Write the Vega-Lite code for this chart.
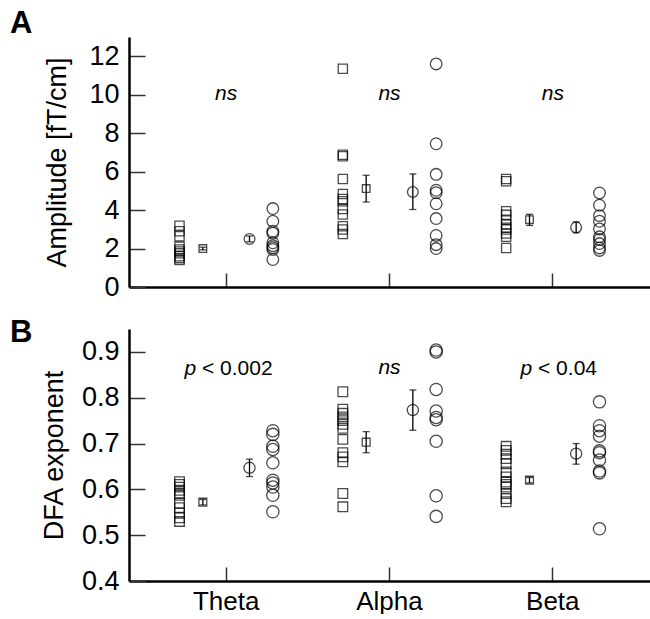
{
  "$schema": "https://vega.github.io/schema/vega-lite/v6.json",
  "padding": {"left": 10, "top": 7, "right": 0, "bottom": 0},
  "config": {
    "font": "Liberation Sans",
    "view": {"stroke": null},
    "axis": {
      "grid": false,
      "domainColor": "black",
      "domainWidth": 2.5,
      "tickColor": "#333333",
      "tickWidth": 1.5,
      "labelColor": "black",
      "labelFont": "Liberation Sans",
      "titleFont": "Liberation Sans",
      "titleColor": "black",
      "titleFontWeight": "normal"
    }
  },
  "datasets": {
    "amp": [
      {"band": "Theta", "group": "s", "value": 3.19},
      {"band": "Theta", "group": "s", "value": 2.9},
      {"band": "Theta", "group": "s", "value": 2.64},
      {"band": "Theta", "group": "s", "value": 2.1},
      {"band": "Theta", "group": "s", "value": 1.95},
      {"band": "Theta", "group": "s", "value": 1.85},
      {"band": "Theta", "group": "s", "value": 1.75},
      {"band": "Theta", "group": "s", "value": 1.6},
      {"band": "Theta", "group": "s", "value": 1.5},
      {"band": "Theta", "group": "s", "value": 1.4},
      {"band": "Theta", "group": "c", "value": 4.08},
      {"band": "Theta", "group": "c", "value": 3.42},
      {"band": "Theta", "group": "c", "value": 2.9},
      {"band": "Theta", "group": "c", "value": 2.8},
      {"band": "Theta", "group": "c", "value": 2.3},
      {"band": "Theta", "group": "c", "value": 2.15},
      {"band": "Theta", "group": "c", "value": 2.05},
      {"band": "Theta", "group": "c", "value": 1.95},
      {"band": "Theta", "group": "c", "value": 1.43},
      {"band": "Alpha", "group": "s", "value": 11.35},
      {"band": "Alpha", "group": "s", "value": 6.88},
      {"band": "Alpha", "group": "s", "value": 6.8},
      {"band": "Alpha", "group": "s", "value": 5.62},
      {"band": "Alpha", "group": "s", "value": 4.84},
      {"band": "Alpha", "group": "s", "value": 4.58},
      {"band": "Alpha", "group": "s", "value": 4.46},
      {"band": "Alpha", "group": "s", "value": 4.06},
      {"band": "Alpha", "group": "s", "value": 3.77},
      {"band": "Alpha", "group": "s", "value": 3.16},
      {"band": "Alpha", "group": "s", "value": 2.99},
      {"band": "Alpha", "group": "s", "value": 2.76},
      {"band": "Alpha", "group": "c", "value": 11.6},
      {"band": "Alpha", "group": "c", "value": 7.45},
      {"band": "Alpha", "group": "c", "value": 5.86},
      {"band": "Alpha", "group": "c", "value": 5.03},
      {"band": "Alpha", "group": "c", "value": 4.9},
      {"band": "Alpha", "group": "c", "value": 4.33},
      {"band": "Alpha", "group": "c", "value": 3.56},
      {"band": "Alpha", "group": "c", "value": 2.68},
      {"band": "Alpha", "group": "c", "value": 2.2},
      {"band": "Alpha", "group": "c", "value": 2.0},
      {"band": "Beta", "group": "s", "value": 5.62},
      {"band": "Beta", "group": "s", "value": 5.5},
      {"band": "Beta", "group": "s", "value": 3.94},
      {"band": "Beta", "group": "s", "value": 3.75},
      {"band": "Beta", "group": "s", "value": 3.5},
      {"band": "Beta", "group": "s", "value": 3.25},
      {"band": "Beta", "group": "s", "value": 3.08},
      {"band": "Beta", "group": "s", "value": 2.99},
      {"band": "Beta", "group": "s", "value": 2.78},
      {"band": "Beta", "group": "s", "value": 2.61},
      {"band": "Beta", "group": "s", "value": 2.03},
      {"band": "Beta", "group": "c", "value": 4.89},
      {"band": "Beta", "group": "c", "value": 4.25},
      {"band": "Beta", "group": "c", "value": 3.71},
      {"band": "Beta", "group": "c", "value": 3.42},
      {"band": "Beta", "group": "c", "value": 3.02},
      {"band": "Beta", "group": "c", "value": 2.61},
      {"band": "Beta", "group": "c", "value": 2.47},
      {"band": "Beta", "group": "c", "value": 2.26},
      {"band": "Beta", "group": "c", "value": 2.03},
      {"band": "Beta", "group": "c", "value": 1.9}
    ],
    "ampMean": [
      {"band": "Theta", "group": "sm", "value": 2.0, "lo": 1.93, "hi": 2.07},
      {"band": "Theta", "group": "cm", "value": 2.5, "lo": 2.35, "hi": 2.65},
      {"band": "Alpha", "group": "sm", "value": 5.12, "lo": 4.42, "hi": 5.81},
      {"band": "Alpha", "group": "cm", "value": 4.94, "lo": 4.03, "hi": 5.88},
      {"band": "Beta", "group": "sm", "value": 3.5, "lo": 3.2, "hi": 3.78},
      {"band": "Beta", "group": "cm", "value": 3.1, "lo": 2.82, "hi": 3.38}
    ],
    "annA": [
      {"band": "Theta", "italic": "ns", "y": 9.74},
      {"band": "Alpha", "italic": "ns", "y": 9.74},
      {"band": "Beta", "italic": "ns", "y": 9.74}
    ],
    "dfa": [
      {"band": "Theta", "group": "s", "value": 0.617},
      {"band": "Theta", "group": "s", "value": 0.611},
      {"band": "Theta", "group": "s", "value": 0.605},
      {"band": "Theta", "group": "s", "value": 0.598},
      {"band": "Theta", "group": "s", "value": 0.592},
      {"band": "Theta", "group": "s", "value": 0.587},
      {"band": "Theta", "group": "s", "value": 0.57},
      {"band": "Theta", "group": "s", "value": 0.56},
      {"band": "Theta", "group": "s", "value": 0.548},
      {"band": "Theta", "group": "s", "value": 0.538},
      {"band": "Theta", "group": "s", "value": 0.53},
      {"band": "Theta", "group": "c", "value": 0.728},
      {"band": "Theta", "group": "c", "value": 0.72},
      {"band": "Theta", "group": "c", "value": 0.694},
      {"band": "Theta", "group": "c", "value": 0.687},
      {"band": "Theta", "group": "c", "value": 0.658},
      {"band": "Theta", "group": "c", "value": 0.62},
      {"band": "Theta", "group": "c", "value": 0.614},
      {"band": "Theta", "group": "c", "value": 0.605},
      {"band": "Theta", "group": "c", "value": 0.587},
      {"band": "Theta", "group": "c", "value": 0.551},
      {"band": "Alpha", "group": "s", "value": 0.813},
      {"band": "Alpha", "group": "s", "value": 0.775},
      {"band": "Alpha", "group": "s", "value": 0.766},
      {"band": "Alpha", "group": "s", "value": 0.758},
      {"band": "Alpha", "group": "s", "value": 0.75},
      {"band": "Alpha", "group": "s", "value": 0.742},
      {"band": "Alpha", "group": "s", "value": 0.733},
      {"band": "Alpha", "group": "s", "value": 0.709},
      {"band": "Alpha", "group": "s", "value": 0.68},
      {"band": "Alpha", "group": "s", "value": 0.671},
      {"band": "Alpha", "group": "s", "value": 0.66},
      {"band": "Alpha", "group": "s", "value": 0.591},
      {"band": "Alpha", "group": "s", "value": 0.562},
      {"band": "Alpha", "group": "c", "value": 0.904},
      {"band": "Alpha", "group": "c", "value": 0.9},
      {"band": "Alpha", "group": "c", "value": 0.818},
      {"band": "Alpha", "group": "c", "value": 0.771},
      {"band": "Alpha", "group": "c", "value": 0.757},
      {"band": "Alpha", "group": "c", "value": 0.752},
      {"band": "Alpha", "group": "c", "value": 0.705},
      {"band": "Alpha", "group": "c", "value": 0.586},
      {"band": "Alpha", "group": "c", "value": 0.541},
      {"band": "Beta", "group": "s", "value": 0.694},
      {"band": "Beta", "group": "s", "value": 0.685},
      {"band": "Beta", "group": "s", "value": 0.677},
      {"band": "Beta", "group": "s", "value": 0.667},
      {"band": "Beta", "group": "s", "value": 0.656},
      {"band": "Beta", "group": "s", "value": 0.638},
      {"band": "Beta", "group": "s", "value": 0.627},
      {"band": "Beta", "group": "s", "value": 0.616},
      {"band": "Beta", "group": "s", "value": 0.611},
      {"band": "Beta", "group": "s", "value": 0.605},
      {"band": "Beta", "group": "s", "value": 0.591},
      {"band": "Beta", "group": "s", "value": 0.58},
      {"band": "Beta", "group": "s", "value": 0.573},
      {"band": "Beta", "group": "c", "value": 0.791},
      {"band": "Beta", "group": "c", "value": 0.739},
      {"band": "Beta", "group": "c", "value": 0.728},
      {"band": "Beta", "group": "c", "value": 0.716},
      {"band": "Beta", "group": "c", "value": 0.684},
      {"band": "Beta", "group": "c", "value": 0.68},
      {"band": "Beta", "group": "c", "value": 0.664},
      {"band": "Beta", "group": "c", "value": 0.64},
      {"band": "Beta", "group": "c", "value": 0.636},
      {"band": "Beta", "group": "c", "value": 0.514}
    ],
    "dfaMean": [
      {"band": "Theta", "group": "sm", "value": 0.572, "lo": 0.566, "hi": 0.578},
      {"band": "Theta", "group": "cm", "value": 0.647, "lo": 0.628, "hi": 0.666},
      {"band": "Alpha", "group": "sm", "value": 0.703, "lo": 0.68, "hi": 0.726},
      {"band": "Alpha", "group": "cm", "value": 0.773, "lo": 0.729, "hi": 0.817},
      {"band": "Beta", "group": "sm", "value": 0.62, "lo": 0.614, "hi": 0.626},
      {"band": "Beta", "group": "cm", "value": 0.678, "lo": 0.655, "hi": 0.7}
    ],
    "annB": [
      {"band": "Theta", "italic": "p", "rest": "< 0.002", "y": 0.85},
      {"band": "Alpha", "italic": "ns", "rest": "", "y": 0.852},
      {"band": "Beta", "italic": "p", "rest": "< 0.04", "y": 0.85}
    ]
  },
  "spacing": 17,
  "vconcat": [
    {
      "title": {"text": "A", "anchor": "start", "frame": "group", "fontSize": 31, "fontWeight": "bold", "dx": -119, "offset": -2.5, "color": "black"},
      "width": 521,
      "height": 250,
      "encoding": {
        "x": {
          "field": "band", "type": "nominal",
          "scale": {"domain": ["Theta", "Alpha", "Beta"], "paddingInner": 0, "paddingOuter": 0.095},
          "axis": {"labels": false, "title": null, "tickSize": -14}
        }
      },
      "layer": [
        {
          "data": {"name": "ampMean"},
          "mark": {"type": "rule", "color": "black", "strokeWidth": 1.3},
          "encoding": {
            "xOffset": {"field": "group", "type": "nominal", "scale": {"domain": ["s", "sm", "gap", "cm", "c"], "paddingInner": 0, "paddingOuter": 2.51}},
            "y": {"field": "lo", "type": "quantitative", "scale": {"domain": [0, 13], "nice": false, "zero": false},
              "axis": {"title": "Amplitude [fT/cm]", "values": [0, 2, 4, 6, 8, 10, 12], "tickSize": -16, "labelFontSize": 27, "labelPadding": 26, "titleFontSize": 27, "titlePadding": 17}},
            "y2": {"field": "hi"}
          }
        },
        {
          "data": {"name": "ampMean"},
          "mark": {"type": "tick", "color": "black", "thickness": 1.3, "size": 7, "orient": "horizontal"},
          "encoding": {
            "xOffset": {"field": "group", "type": "nominal", "scale": {"domain": ["s", "sm", "gap", "cm", "c"], "paddingInner": 0, "paddingOuter": 2.51}},
            "y": {"field": "lo", "type": "quantitative", "scale": {"domain": [0, 13], "nice": false, "zero": false},
              "axis": {"title": "Amplitude [fT/cm]", "values": [0, 2, 4, 6, 8, 10, 12], "tickSize": -16, "labelFontSize": 27, "labelPadding": 26, "titleFontSize": 27, "titlePadding": 17}}
          }
        },
        {
          "data": {"name": "ampMean"},
          "mark": {"type": "tick", "color": "black", "thickness": 1.3, "size": 7, "orient": "horizontal"},
          "encoding": {
            "xOffset": {"field": "group", "type": "nominal", "scale": {"domain": ["s", "sm", "gap", "cm", "c"], "paddingInner": 0, "paddingOuter": 2.51}},
            "y": {"field": "hi", "type": "quantitative", "scale": {"domain": [0, 13], "nice": false, "zero": false},
              "axis": {"title": "Amplitude [fT/cm]", "values": [0, 2, 4, 6, 8, 10, 12], "tickSize": -16, "labelFontSize": 27, "labelPadding": 26, "titleFontSize": 27, "titlePadding": 17}}
          }
        },
        {
          "data": {"name": "ampMean"},
          "transform": [{"filter": "datum.group === 'sm'"}],
          "mark": {"type": "point", "shape": "square", "size": 58, "filled": false, "color": "black", "strokeWidth": 1.3},
          "encoding": {
            "xOffset": {"field": "group", "type": "nominal", "scale": {"domain": ["s", "sm", "gap", "cm", "c"], "paddingInner": 0, "paddingOuter": 2.51}},
            "y": {"field": "value", "type": "quantitative", "scale": {"domain": [0, 13], "nice": false, "zero": false},
              "axis": {"title": "Amplitude [fT/cm]", "values": [0, 2, 4, 6, 8, 10, 12], "tickSize": -16, "labelFontSize": 27, "labelPadding": 26, "titleFontSize": 27, "titlePadding": 17}}
          }
        },
        {
          "data": {"name": "ampMean"},
          "transform": [{"filter": "datum.group === 'cm'"}],
          "mark": {"type": "point", "shape": "circle", "size": 115, "filled": false, "color": "black", "strokeWidth": 1.3},
          "encoding": {
            "xOffset": {"field": "group", "type": "nominal", "scale": {"domain": ["s", "sm", "gap", "cm", "c"], "paddingInner": 0, "paddingOuter": 2.51}},
            "y": {"field": "value", "type": "quantitative", "scale": {"domain": [0, 13], "nice": false, "zero": false},
              "axis": {"title": "Amplitude [fT/cm]", "values": [0, 2, 4, 6, 8, 10, 12], "tickSize": -16, "labelFontSize": 27, "labelPadding": 26, "titleFontSize": 27, "titlePadding": 17}}
          }
        },
        {
          "data": {"name": "amp"},
          "transform": [{"filter": "datum.group === 's'"}],
          "mark": {"type": "point", "shape": "square", "size": 85, "filled": false, "color": "black", "strokeWidth": 1.3},
          "encoding": {
            "xOffset": {"field": "group", "type": "nominal", "scale": {"domain": ["s", "sm", "gap", "cm", "c"], "paddingInner": 0, "paddingOuter": 2.51}},
            "y": {"field": "value", "type": "quantitative", "scale": {"domain": [0, 13], "nice": false, "zero": false},
              "axis": {"title": "Amplitude [fT/cm]", "values": [0, 2, 4, 6, 8, 10, 12], "tickSize": -16, "labelFontSize": 27, "labelPadding": 26, "titleFontSize": 27, "titlePadding": 17}}
          }
        },
        {
          "data": {"name": "amp"},
          "transform": [{"filter": "datum.group === 'c'"}],
          "mark": {"type": "point", "shape": "circle", "size": 135, "filled": false, "color": "black", "strokeWidth": 1.3},
          "encoding": {
            "xOffset": {"field": "group", "type": "nominal", "scale": {"domain": ["s", "sm", "gap", "cm", "c"], "paddingInner": 0, "paddingOuter": 2.51}},
            "y": {"field": "value", "type": "quantitative", "scale": {"domain": [0, 13], "nice": false, "zero": false},
              "axis": {"title": "Amplitude [fT/cm]", "values": [0, 2, 4, 6, 8, 10, 12], "tickSize": -16, "labelFontSize": 27, "labelPadding": 26, "titleFontSize": 27, "titlePadding": 17}}
          }
        },
        {
          "data": {"name": "annA"},
          "mark": {"type": "text", "fontStyle": "italic", "fontSize": 21, "align": "center", "baseline": "alphabetic", "color": "black"},
          "encoding": {
            "text": {"field": "italic"},
            "y": {"field": "y", "type": "quantitative", "scale": {"domain": [0, 13], "nice": false, "zero": false},
              "axis": {"title": "Amplitude [fT/cm]", "values": [0, 2, 4, 6, 8, 10, 12], "tickSize": -16, "labelFontSize": 27, "labelPadding": 26, "titleFontSize": 27, "titlePadding": 17}}
          }
        }
      ]
    },
    {
      "title": {"text": "B", "anchor": "start", "frame": "group", "fontSize": 31, "fontWeight": "bold", "dx": -119, "offset": -20, "color": "black"},
      "width": 521,
      "height": 252,
      "encoding": {
        "x": {
          "field": "band", "type": "nominal",
          "scale": {"domain": ["Theta", "Alpha", "Beta"], "paddingInner": 0, "paddingOuter": 0.095},
          "axis": {"labelAngle": 0, "title": null, "tickSize": -14, "labelFontSize": 26, "labelPadding": 21}
        }
      },
      "layer": [
        {
          "data": {"name": "dfaMean"},
          "mark": {"type": "rule", "color": "black", "strokeWidth": 1.3},
          "encoding": {
            "xOffset": {"field": "group", "type": "nominal", "scale": {"domain": ["s", "sm", "gap", "cm", "c"], "paddingInner": 0, "paddingOuter": 2.51}},
            "y": {"field": "lo", "type": "quantitative", "scale": {"domain": [0.4, 0.95], "nice": false, "zero": false},
              "axis": {"title": "DFA exponent", "values": [0.4, 0.5, 0.6, 0.7, 0.8, 0.9], "format": ".1f", "tickSize": -16, "labelFontSize": 27, "labelPadding": 26, "titleFontSize": 27, "titlePadding": 13}},
            "y2": {"field": "hi"}
          }
        },
        {
          "data": {"name": "dfaMean"},
          "mark": {"type": "tick", "color": "black", "thickness": 1.3, "size": 7, "orient": "horizontal"},
          "encoding": {
            "xOffset": {"field": "group", "type": "nominal", "scale": {"domain": ["s", "sm", "gap", "cm", "c"], "paddingInner": 0, "paddingOuter": 2.51}},
            "y": {"field": "lo", "type": "quantitative", "scale": {"domain": [0.4, 0.95], "nice": false, "zero": false},
              "axis": {"title": "DFA exponent", "values": [0.4, 0.5, 0.6, 0.7, 0.8, 0.9], "format": ".1f", "tickSize": -16, "labelFontSize": 27, "labelPadding": 26, "titleFontSize": 27, "titlePadding": 13}}
          }
        },
        {
          "data": {"name": "dfaMean"},
          "mark": {"type": "tick", "color": "black", "thickness": 1.3, "size": 7, "orient": "horizontal"},
          "encoding": {
            "xOffset": {"field": "group", "type": "nominal", "scale": {"domain": ["s", "sm", "gap", "cm", "c"], "paddingInner": 0, "paddingOuter": 2.51}},
            "y": {"field": "hi", "type": "quantitative", "scale": {"domain": [0.4, 0.95], "nice": false, "zero": false},
              "axis": {"title": "DFA exponent", "values": [0.4, 0.5, 0.6, 0.7, 0.8, 0.9], "format": ".1f", "tickSize": -16, "labelFontSize": 27, "labelPadding": 26, "titleFontSize": 27, "titlePadding": 13}}
          }
        },
        {
          "data": {"name": "dfaMean"},
          "transform": [{"filter": "datum.group === 'sm'"}],
          "mark": {"type": "point", "shape": "square", "size": 62, "filled": false, "color": "black", "strokeWidth": 1.3},
          "encoding": {
            "xOffset": {"field": "group", "type": "nominal", "scale": {"domain": ["s", "sm", "gap", "cm", "c"], "paddingInner": 0, "paddingOuter": 2.51}},
            "y": {"field": "value", "type": "quantitative", "scale": {"domain": [0.4, 0.95], "nice": false, "zero": false},
              "axis": {"title": "DFA exponent", "values": [0.4, 0.5, 0.6, 0.7, 0.8, 0.9], "format": ".1f", "tickSize": -16, "labelFontSize": 27, "labelPadding": 26, "titleFontSize": 27, "titlePadding": 13}}
          }
        },
        {
          "data": {"name": "dfaMean"},
          "transform": [{"filter": "datum.group === 'cm'"}],
          "mark": {"type": "point", "shape": "circle", "size": 125, "filled": false, "color": "black", "strokeWidth": 1.3},
          "encoding": {
            "xOffset": {"field": "group", "type": "nominal", "scale": {"domain": ["s", "sm", "gap", "cm", "c"], "paddingInner": 0, "paddingOuter": 2.51}},
            "y": {"field": "value", "type": "quantitative", "scale": {"domain": [0.4, 0.95], "nice": false, "zero": false},
              "axis": {"title": "DFA exponent", "values": [0.4, 0.5, 0.6, 0.7, 0.8, 0.9], "format": ".1f", "tickSize": -16, "labelFontSize": 27, "labelPadding": 26, "titleFontSize": 27, "titlePadding": 13}}
          }
        },
        {
          "data": {"name": "dfa"},
          "transform": [{"filter": "datum.group === 's'"}],
          "mark": {"type": "point", "shape": "square", "size": 92, "filled": false, "color": "black", "strokeWidth": 1.3},
          "encoding": {
            "xOffset": {"field": "group", "type": "nominal", "scale": {"domain": ["s", "sm", "gap", "cm", "c"], "paddingInner": 0, "paddingOuter": 2.51}},
            "y": {"field": "value", "type": "quantitative", "scale": {"domain": [0.4, 0.95], "nice": false, "zero": false},
              "axis": {"title": "DFA exponent", "values": [0.4, 0.5, 0.6, 0.7, 0.8, 0.9], "format": ".1f", "tickSize": -16, "labelFontSize": 27, "labelPadding": 26, "titleFontSize": 27, "titlePadding": 13}}
          }
        },
        {
          "data": {"name": "dfa"},
          "transform": [{"filter": "datum.group === 'c'"}],
          "mark": {"type": "point", "shape": "circle", "size": 150, "filled": false, "color": "black", "strokeWidth": 1.3},
          "encoding": {
            "xOffset": {"field": "group", "type": "nominal", "scale": {"domain": ["s", "sm", "gap", "cm", "c"], "paddingInner": 0, "paddingOuter": 2.51}},
            "y": {"field": "value", "type": "quantitative", "scale": {"domain": [0.4, 0.95], "nice": false, "zero": false},
              "axis": {"title": "DFA exponent", "values": [0.4, 0.5, 0.6, 0.7, 0.8, 0.9], "format": ".1f", "tickSize": -16, "labelFontSize": 27, "labelPadding": 26, "titleFontSize": 27, "titlePadding": 13}}
          }
        },
        {
          "data": {"name": "annB"},
          "transform": [{"filter": "datum.italic === 'ns'"}],
          "mark": {"type": "text", "fontStyle": "italic", "fontSize": 21, "align": "center", "baseline": "alphabetic", "color": "black"},
          "encoding": {
            "text": {"field": "italic"},
            "y": {"field": "y", "type": "quantitative", "scale": {"domain": [0.4, 0.95], "nice": false, "zero": false},
              "axis": {"title": "DFA exponent", "values": [0.4, 0.5, 0.6, 0.7, 0.8, 0.9], "format": ".1f", "tickSize": -16, "labelFontSize": 27, "labelPadding": 26, "titleFontSize": 27, "titlePadding": 13}}
          }
        },
        {
          "data": {"name": "annB"},
          "transform": [{"filter": "datum.band === 'Theta'"}],
          "mark": {"type": "text", "fontStyle": "italic", "fontSize": 21, "align": "left", "baseline": "alphabetic", "color": "black", "dx": -41.7},
          "encoding": {
            "text": {"field": "italic"},
            "y": {"field": "y", "type": "quantitative", "scale": {"domain": [0.4, 0.95], "nice": false, "zero": false},
              "axis": {"title": "DFA exponent", "values": [0.4, 0.5, 0.6, 0.7, 0.8, 0.9], "format": ".1f", "tickSize": -16, "labelFontSize": 27, "labelPadding": 26, "titleFontSize": 27, "titlePadding": 13}}
          }
        },
        {
          "data": {"name": "annB"},
          "transform": [{"filter": "datum.band === 'Theta'"}],
          "mark": {"type": "text", "fontSize": 21, "align": "left", "baseline": "alphabetic", "color": "black", "dx": -24.2},
          "encoding": {
            "text": {"field": "rest"},
            "y": {"field": "y", "type": "quantitative", "scale": {"domain": [0.4, 0.95], "nice": false, "zero": false},
              "axis": {"title": "DFA exponent", "values": [0.4, 0.5, 0.6, 0.7, 0.8, 0.9], "format": ".1f", "tickSize": -16, "labelFontSize": 27, "labelPadding": 26, "titleFontSize": 27, "titlePadding": 13}}
          }
        },
        {
          "data": {"name": "annB"},
          "transform": [{"filter": "datum.band === 'Beta'"}],
          "mark": {"type": "text", "fontStyle": "italic", "fontSize": 21, "align": "left", "baseline": "alphabetic", "color": "black", "dx": -32.3},
          "encoding": {
            "text": {"field": "italic"},
            "y": {"field": "y", "type": "quantitative", "scale": {"domain": [0.4, 0.95], "nice": false, "zero": false},
              "axis": {"title": "DFA exponent", "values": [0.4, 0.5, 0.6, 0.7, 0.8, 0.9], "format": ".1f", "tickSize": -16, "labelFontSize": 27, "labelPadding": 26, "titleFontSize": 27, "titlePadding": 13}}
          }
        },
        {
          "data": {"name": "annB"},
          "transform": [{"filter": "datum.band === 'Beta'"}],
          "mark": {"type": "text", "fontSize": 21, "align": "left", "baseline": "alphabetic", "color": "black", "dx": -14.8},
          "encoding": {
            "text": {"field": "rest"},
            "y": {"field": "y", "type": "quantitative", "scale": {"domain": [0.4, 0.95], "nice": false, "zero": false},
              "axis": {"title": "DFA exponent", "values": [0.4, 0.5, 0.6, 0.7, 0.8, 0.9], "format": ".1f", "tickSize": -16, "labelFontSize": 27, "labelPadding": 26, "titleFontSize": 27, "titlePadding": 13}}
          }
        }
      ]
    }
  ]
}
